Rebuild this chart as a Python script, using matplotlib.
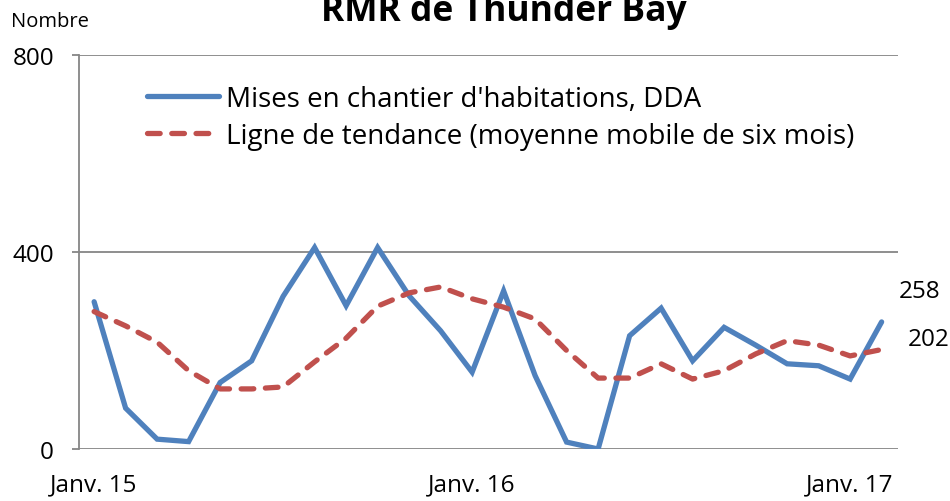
import matplotlib
matplotlib.use("Agg")
import matplotlib.pyplot as plt
import numpy as np

# monthly data, Jan 2015 to Feb 2017
months = np.arange(26)
starts = [299, 83, 20, 15, 135, 179, 310, 409, 291, 409, 311, 240, 156,
          321, 149, 14, 0, 230, 286, 179, 247, 211, 173, 169, 142, 258]
trend = [279, 250, 217, 159, 122, 122, 126, 177, 225, 290, 317, 329, 305,
         288, 264, 200, 144, 144, 173, 142, 159, 193, 220, 211, 189, 202]
tick_pos = [0, 12, 24]
tick_labels = ["Janv. 15", "Janv. 16", "Janv. 17"]
y_ticks = [0, 400, 800]

blue = "#4F81BD"
red = "#C0504D"
grey = "#868686"

plt.rcParams['font.family'] = ['Open Sans', 'DejaVu Sans']

fig = plt.figure(figsize=(9.5, 5.02), dpi=100)
ax = fig.add_axes([79 / 950, 52 / 502, (898 - 79) / 950, (450 - 56) / 502])

ax.plot(months, starts, color=blue, lw=3.8, solid_joinstyle='miter',
        solid_capstyle='round',
        label="Mises en chantier d'habitations, DDA")
ax.plot(months, trend, color=red, lw=3.8, dashes=(2.4, 2.2),
        dash_capstyle='round', label="Ligne de tendance (moyenne mobile de six mois)")

ax.set_xlim(-0.48, 25.52)
ax.set_ylim(0, 800)
ax.set_yticks(y_ticks)
ax.set_xticks(tick_pos)
ax.set_xticklabels(tick_labels)
ax.grid(axis='y', color=grey, lw=1.3)
ax.set_axisbelow(True)
for s in ['top', 'right', 'bottom']:
    ax.spines[s].set_visible(False)
ax.spines['left'].set_color(grey)
ax.spines['left'].set_linewidth(1.3)
ax.tick_params(axis='y', length=5, width=1.3, color=grey, pad=13, labelsize=17.5)
ax.tick_params(axis='x', length=0, pad=17, labelsize=17.5)

ax.annotate(str(starts[-1]), xy=(months[-1], starts[-1]), xytext=(12, 22),
            textcoords='offset points', ha='left', va='center', fontsize=17.5)
ax.annotate(str(trend[-1]), xy=(months[-1], trend[-1]), xytext=(18.5, 7.5),
            textcoords='offset points', ha='left', va='center', fontsize=17.5)

ax.legend(loc='upper left', bbox_to_anchor=(147 / 950, 1 - 86 / 502),
          bbox_transform=fig.transFigure, frameon=False, fontsize=20,
          handlelength=2.6, handletextpad=0.25, labelspacing=0.33,
          borderpad=0, borderaxespad=0)

fig.text(504 / 950, 1 - 21 / 502, "RMR de Thunder Bay", ha='center',
         va='baseline', fontsize=25.5, fontweight='bold')
fig.text(11 / 950, 1 - 27 / 502, "Nombre", ha='left', va='baseline',
         fontsize=14.5)

fig.savefig("out.png", dpi=100)
